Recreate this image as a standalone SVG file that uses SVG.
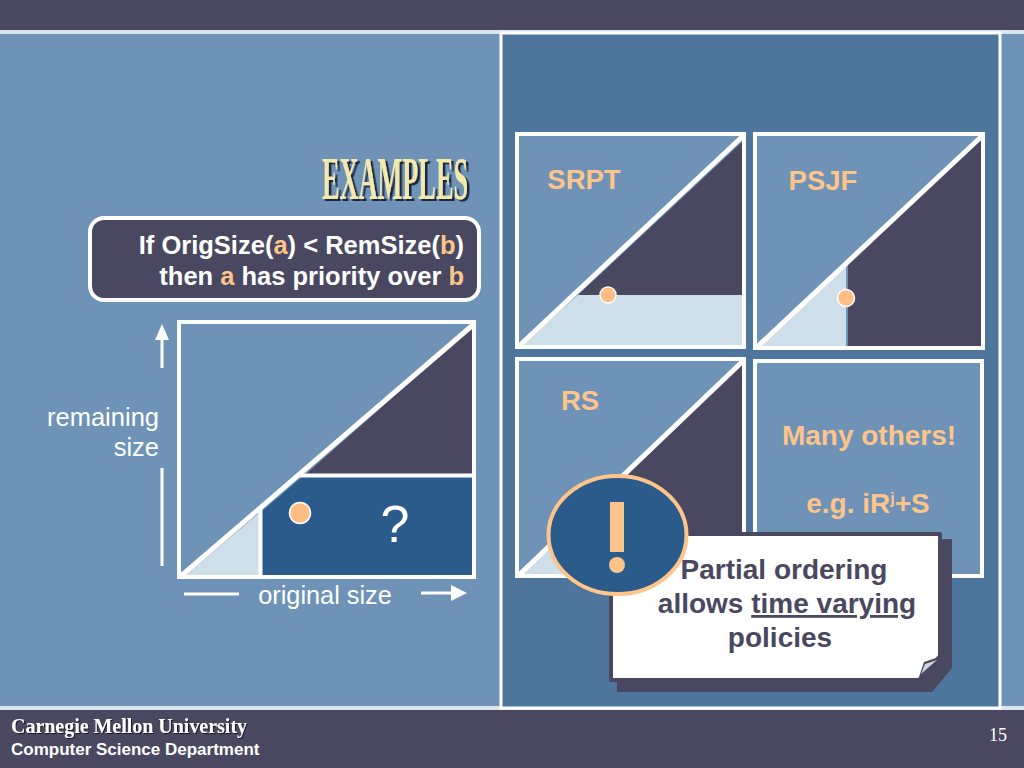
<svg xmlns="http://www.w3.org/2000/svg" width="1024" height="768" viewBox="0 0 1024 768">
<defs>
<filter id="ts" x="-10%" y="-20%" width="120%" height="150%"><feDropShadow dx="6" dy="2" stdDeviation="0.400" flood-color="#1f2640"/></filter>
<filter id="fs" x="-5%" y="-20%" width="110%" height="150%"><feDropShadow dx="1" dy="1" stdDeviation="0.500" flood-color="#15182a"/></filter>
</defs>
<style>
text{font-family:"Liberation Sans",Arial,sans-serif}
.b{font-weight:bold}
.o{fill:#fdc48c}
.w{fill:#fff}
.d{fill:#494860}
.box{fill:#6f93b6;stroke:#fff;stroke-width:4}
.pale{fill:#cedfe9}
.dark{fill:#494860}
.dot{fill:#fdbd85;stroke:#fff;stroke-width:1.500}
.ln{stroke:#fff;stroke-width:3;fill:none}
.dg{stroke:#fff;stroke-width:5;fill:none}
.serif{font-family:"Liberation Serif","Times New Roman",serif}
</style>
<rect width="1024" height="768" fill="#6f93b6"/>
<rect id="top-bar" width="1024" height="30" fill="#494860"/>
<rect y="30" width="1024" height="4" fill="#dbe5ee"/>
<rect id="bottom-bar" y="710" width="1024" height="58" fill="#494860"/>
<rect y="706" width="1024" height="4" fill="#dbe5ee"/>
<rect id="right-panel" x="501" y="33" width="499" height="675" fill="#4e759c" stroke="#fff" stroke-width="3"/>

<g id="title"><text class="serif" transform="translate(322,199) scale(0.424,1)" font-size="62" font-weight="bold" fill="#f1e9ae" filter="url(#ts)">EXAMPLES</text></g>

<g id="rule-box"><rect x="90" y="218" width="389" height="82" rx="14" fill="#494860" stroke="#fff" stroke-width="4"/>
<text x="464" y="254" text-anchor="end" font-size="25.500" class="b w">If OrigSize(<tspan class="o">a</tspan>) &lt; RemSize(<tspan class="o">b</tspan>)</text>
<text x="464" y="285" text-anchor="end" font-size="25.500" class="b w">then <tspan class="o">a</tspan> has priority over <tspan class="o">b</tspan></text></g>

<g id="main-chart">
<rect class="box" x="179" y="322" width="295" height="255"/>
<polygon class="dark" points="472,327 472,474 306,474"/>
<polygon fill="#2b5b8a" points="262,511 302,477 472,477 472,575 262,575"/>
<polygon class="pale" points="186,575 259,575 259,513"/>
<path class="dg" d="M181,576 L474,324"/>
<path d="M300,475.500H473M260.500,508V575" stroke="#fff" stroke-width="4" fill="none"/>
<circle class="dot" cx="300" cy="513" r="10.500"/>
<text x="395" y="542" text-anchor="middle" font-size="52" class="w">?</text>
</g>
<g id="axes">
<text x="159" y="426" text-anchor="end" font-size="25.500" class="w">remaining</text>
<text x="159" y="456" text-anchor="end" font-size="25.500" class="w">size</text>
<path class="ln" d="M162,368V338M162,468V566"/>
<polygon class="w" points="162,324 169,340 155,340"/>
<text x="325" y="604" text-anchor="middle" font-size="25.300" class="w">original size</text>
<path class="ln" d="M184,594H239M421,593H455"/>
<polygon class="w" points="467,593 451,585 451,601"/>
</g>

<g id="srpt">
<rect class="box" x="517" y="134" width="227" height="213"/>
<polygon class="dark" points="742,142 742,295 578,295"/>
<polygon class="pale" points="522,345 742,345 742,295 578,295"/>
<path class="dg" d="M519,346 L743,136"/>
<circle class="dot" cx="608" cy="295" r="8"/>
<text x="584" y="189" text-anchor="middle" font-size="27.500" class="b o">SRPT</text>
</g>
<g id="psjf">
<rect class="box" x="755" y="134" width="228" height="214"/>
<polygon class="dark" points="981,140 981,346 848,346 848,262"/>
<polygon class="pale" points="760,346 846,346 846,266"/>
<path class="dg" d="M757,347 L982,136"/>
<circle class="dot" cx="846" cy="298" r="8.500"/>
<text x="823" y="190" text-anchor="middle" font-size="27.500" class="b o">PSJF</text>
</g>
<g id="rs">
<rect class="box" x="517" y="359" width="227" height="217"/>
<polygon class="dark" points="742,364 742,574 525,574"/>
<polygon class="pale" points="522,574 575,574 575,526"/>
<path class="dg" d="M519,575 L743,361"/>
<text x="580" y="410" text-anchor="middle" font-size="27.500" class="b o">RS</text>
</g>
<g id="others">
<rect class="box" x="755" y="361" width="227" height="215"/>
<text x="869" y="445" text-anchor="middle" font-size="28" class="b o">Many others!</text>
<text x="868" y="513" text-anchor="middle" font-size="28" class="b o">e.g. iR<tspan font-size="16" dy="-9">j</tspan><tspan dy="9">+S</tspan></text>
</g>

<g id="note">
<polygon class="dark" points="617,539 952,539 952,668 932,692 617,692"/>
<polygon points="611,534 940,534 940,656 919,680 611,680" fill="#fff" stroke="#494860" stroke-width="4" stroke-linejoin="round"/>
<polygon points="918,680 924,662 942,656 942,664 925,684" fill="#494860"/>
<polygon points="921,674 925,664 937,660" fill="#cfd3dd"/>
<text x="784" y="579" text-anchor="middle" font-size="28" class="b d">Partial ordering</text>
<text x="787" y="613" text-anchor="middle" font-size="28" class="b d">allows <tspan text-decoration="underline">time varying</tspan></text>
<text x="780" y="647" text-anchor="middle" font-size="28" class="b d">policies</text>
</g>
<g id="bang">
<ellipse cx="617.500" cy="535" rx="69" ry="59" fill="#2b5b8a" stroke="#fdc48c" stroke-width="4"/>
<rect x="610" y="502" width="14" height="50" fill="#fdc48c"/>
<circle cx="617" cy="565" r="8" fill="#fdc48c"/>
</g>

<g id="footer">
<text class="serif w" x="11" y="733" font-size="20" font-weight="bold" filter="url(#fs)" textLength="236" lengthAdjust="spacingAndGlyphs">Carnegie Mellon University</text>
<text x="11" y="755" font-size="17" class="b w">Computer Science Department</text>
<text class="serif w" x="998" y="741" text-anchor="middle" font-size="18">15</text>
</g>
</svg>
